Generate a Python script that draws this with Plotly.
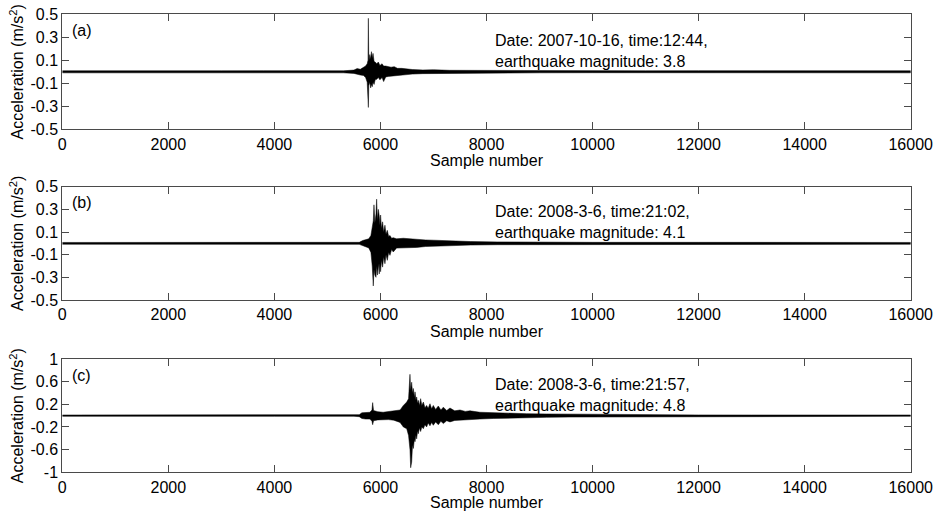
import plotly.graph_objects as go

# ---------------- data (envelope of the acceleration records) -------------
# sample number, upper envelope, lower envelope (m/s^2)
a_samples = [0, 600, 1150, 1250, 2200, 3000, 3800, 4600, 5300, 5500, 5560, 5620, 5680, 5720, 5750,
             5765, 5772, 5780, 5800, 5815, 5830, 5845, 5860, 5880, 5900, 5930, 5960, 5990, 6030,
             6060, 6100, 6150, 6200, 6260, 6320, 6400, 6480, 6600, 6800, 7000, 7300, 7700, 8200,
             9000, 10000, 11000, 12000, 13000, 14000, 15000, 16000]
a_upper = [0.009, 0.010, 0.012, 0.009, 0.011, 0.009, 0.010, 0.009, 0.009, 0.015, 0.028, 0.022, 0.038,
           0.05, 0.07, 0.10, 0.465, 0.09, 0.15, 0.11, 0.175, 0.12, 0.16, 0.09, 0.085, 0.07, 0.085,
           0.055, 0.07, 0.05, 0.05, 0.042, 0.04, 0.045, 0.03, 0.03, 0.025, 0.02, 0.016, 0.018,
           0.013, 0.012, 0.010, 0.009, 0.010, 0.009, 0.010, 0.009, 0.009, 0.010, 0.009]
a_lower = [-0.009, -0.009, -0.011, -0.009, -0.010, -0.008, -0.009, -0.009, -0.009, -0.014, -0.022,
           -0.028, -0.032, -0.05, -0.09, -0.12, -0.31, -0.12, -0.09, -0.14, -0.11, -0.13, -0.09,
           -0.11, -0.07, -0.065, -0.05, -0.07, -0.05, -0.085, -0.045, -0.04, -0.035, -0.03, -0.03,
           -0.025, -0.025, -0.02, -0.016, -0.015, -0.012, -0.011, -0.010, -0.009, -0.008, -0.009,
           -0.008, -0.009, -0.009, -0.008, -0.009]

b_samples = [0, 1500, 3000, 4500, 5600, 5665, 5720, 5780, 5820, 5845, 5865, 5878, 5895, 5916, 5928,
             5945, 5960, 5978, 5990, 6003, 6020, 6041, 6060, 6085, 6105, 6129, 6155, 6180, 6210,
             6242, 6305, 6431, 6550, 6682, 6850, 6997, 7311, 7700, 8200, 9000, 10000, 12000,
             14000, 16000]
b_upper = [0.008, 0.009, 0.008, 0.009, 0.009, 0.025, 0.035, 0.04, 0.07, 0.15, 0.2, 0.34, 0.18, 0.26,
           0.39, 0.2, 0.3, 0.24, 0.16, 0.25, 0.13, 0.19, 0.1, 0.16, 0.08, 0.115, 0.06, 0.07, 0.045,
           0.05, 0.04, 0.045, 0.04, 0.04, 0.03, 0.028, 0.02, 0.016, 0.013, 0.010, 0.009, 0.009,
           0.008, 0.008]
b_lower = [-0.008, -0.009, -0.008, -0.009, -0.009, -0.025, -0.03, -0.04, -0.08, -0.2, -0.376, -0.23,
           -0.28, -0.30, -0.2, -0.28, -0.18, -0.27, -0.18, -0.25, -0.15, -0.21, -0.12, -0.18, -0.1,
           -0.15, -0.08, -0.106, -0.055, -0.076, -0.042, -0.04, -0.036, -0.036, -0.028, -0.026,
           -0.018, -0.015, -0.012, -0.010, -0.009, -0.009, -0.008, -0.008]

c_samples = [0, 2000, 4000, 5500, 5600, 5650, 5720, 5800, 5840, 5853, 5870, 5950, 6050, 6150, 6250,
             6320, 6370, 6432, 6495, 6530, 6557, 6570, 6589, 6605, 6620, 6640, 6652, 6670, 6683,
             6700, 6714, 6735, 6758, 6780, 6809, 6840, 6871, 6900, 6934, 6965, 6997, 7040, 7091,
             7140, 7186, 7250, 7311, 7400, 7500, 7600, 7689, 7877, 8128, 8443, 8757, 9134, 9574,
             10200, 11000, 12000, 13000, 14000, 15000, 16000]
c_upper = [0.012, 0.012, 0.012, 0.012, 0.018, 0.05, 0.055, 0.06, 0.10, 0.23, 0.09, 0.07, 0.06, 0.07,
           0.075, 0.09, 0.1, 0.18, 0.24, 0.3, 0.73, 0.45, 0.59, 0.4, 0.48, 0.32, 0.42, 0.27, 0.33,
           0.22, 0.27, 0.18, 0.3, 0.18, 0.24, 0.14, 0.18, 0.13, 0.21, 0.12, 0.18, 0.11, 0.17, 0.1,
           0.15, 0.09, 0.135, 0.085, 0.1, 0.075, 0.085, 0.06, 0.05, 0.04, 0.035, 0.03, 0.026, 0.02,
           0.016, 0.013, 0.012, 0.012, 0.012, 0.012]
c_lower = [-0.012, -0.012, -0.012, -0.012, -0.018, -0.05, -0.06, -0.06, -0.10, -0.16, -0.09, -0.075,
           -0.07, -0.07, -0.08, -0.1, -0.12, -0.2, -0.23, -0.35, -0.6, -0.92, -0.82, -0.52, -0.58,
           -0.42, -0.46, -0.34, -0.41, -0.27, -0.32, -0.22, -0.28, -0.2, -0.23, -0.16, -0.2, -0.13,
           -0.18, -0.12, -0.17, -0.11, -0.16, -0.1, -0.14, -0.09, -0.11, -0.085, -0.09, -0.075,
           -0.075, -0.06, -0.05, -0.04, -0.035, -0.03, -0.025, -0.018, -0.014, -0.012, -0.012,
           -0.012, -0.012, -0.012]

x_tickvals = [0, 2000, 4000, 6000, 8000, 10000, 12000, 14000, 16000]
x_ticktext = ["0", "2000", "4000", "6000", "8000", "10000", "12000", "14000", "16000"]
y_tick_ab = [-0.5, -0.3, -0.1, 0.1, 0.3, 0.5]
y_text_ab = ["-0.5", "-0.3", "-0.1", "0.1", "0.3", "0.5"]
y_tick_c = [-1, -0.6, -0.2, 0.2, 0.6, 1]
y_text_c = ["-1", "-0.6", "-0.2", "0.2", "0.6", "1"]

panel_labels = ["(a)", "(b)", "(c)"]
event_text = [
    "Date: 2007-10-16, time:12:44,<br>earthquake magnitude: 3.8",
    "Date: 2008-3-6, time:21:02,<br>earthquake magnitude: 4.1",
    "Date: 2008-3-6, time:21:57,<br>earthquake magnitude: 4.8",
]
x_title = "Sample number"
y_title = "Acceleration (m/s<sup>2</sup>)"

# ---------------- figure ----------------
FONT = "Liberation Sans, Arial, sans-serif"
AXC = "#4a4a4a"
W, H = 941, 511
x_dom = [62.3 / W, 910.7 / W]
y_doms = [[1 - 129.3 / H, 1 - 14.3 / H],
          [1 - 300.0 / H, 1 - 186.7 / H],
          [1 - 472.3 / H, 1 - 359.0 / H]]
y_ranges = [[-0.5, 0.5], [-0.5, 0.5], [-1, 1]]
y_ticks = [(y_tick_ab, y_text_ab), (y_tick_ab, y_text_ab), (y_tick_c, y_text_c)]

fig = go.Figure()
records = [(a_samples, a_upper, a_lower), (b_samples, b_upper, b_lower), (c_samples, c_upper, c_lower)]
for i, (s, up, lo) in enumerate(records):
    suffix = "" if i == 0 else str(i + 1)
    fig.add_trace(go.Scatter(
        x=list(s) + list(s)[::-1],
        y=list(up) + list(lo)[::-1],
        fill="toself", fillcolor="black",
        mode="lines", line=dict(color="black", width=0.5),
        xaxis="x" + suffix, yaxis="y" + suffix,
        hoverinfo="skip", showlegend=False,
    ))

layout = dict(
    width=W, height=H,
    margin=dict(l=0, r=0, t=0, b=0),
    paper_bgcolor="white", plot_bgcolor="white",
    font=dict(family=FONT, size=16, color="black"),
    showlegend=False,
)
annotations = []
for i in range(3):
    suffix = "" if i == 0 else str(i + 1)
    layout["xaxis" + suffix] = dict(
        domain=x_dom, anchor="y" + suffix, range=[0, 16000],
        tickvals=x_tickvals, ticktext=x_ticktext,
        ticks="inside", ticklen=7, tickcolor=AXC, tickwidth=1,
        showline=True, linecolor=AXC, linewidth=1, mirror="ticks",
        showgrid=False, zeroline=False,
        tickfont=dict(family=FONT, size=16, color="black"),
        title=dict(text=x_title, font=dict(family=FONT, size=16, color="black"), standoff=2),
        automargin=False,
    )
    tv, tt = y_ticks[i]
    layout["yaxis" + suffix] = dict(
        domain=y_doms[i], anchor="x" + suffix, range=y_ranges[i],
        tickvals=tv, ticktext=tt,
        ticks="inside", ticklen=7, tickcolor=AXC, tickwidth=1,
        showline=True, linecolor=AXC, linewidth=1, mirror="ticks",
        showgrid=False, zeroline=False,
        tickfont=dict(family=FONT, size=16, color="black"),
        title=dict(text=y_title, font=dict(family=FONT, size=16, color="black"), standoff=2),
        automargin=False,
    )
    annotations.append(dict(
        text=panel_labels[i], xref="x" + suffix, yref="y" + suffix + " domain",
        x=145, y=1 - 16.4 / 114, xanchor="left", yanchor="middle",
        showarrow=False, font=dict(family=FONT, size=16, color="black"),
    ))
    annotations.append(dict(
        text=event_text[i], xref="x" + suffix, yref="y" + suffix + " domain",
        x=8116, y=1 - 36 / 114, xanchor="left", yanchor="middle", align="left",
        showarrow=False, font=dict(family=FONT, size=16, color="black"),
    ))
layout["annotations"] = annotations
fig.update_layout(**layout)

fig.write_html("out.html")
